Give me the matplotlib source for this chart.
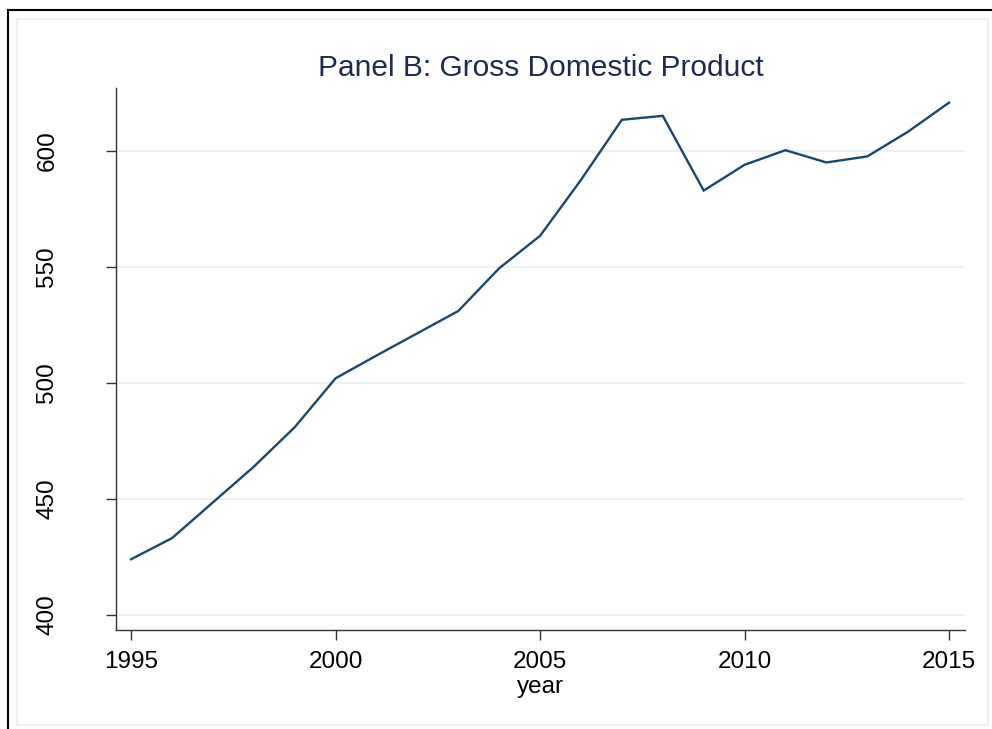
import matplotlib
matplotlib.use('Agg')
import matplotlib.pyplot as plt
from matplotlib.patches import Rectangle
from matplotlib.lines import Line2D

plt.rcParams['font.family'] = ['Liberation Sans', 'DejaVu Sans']

# data
years = [1995, 1996, 1997, 1998, 1999, 2000, 2001, 2002, 2003, 2004, 2005,
         2006, 2007, 2008, 2009, 2010, 2011, 2012, 2013, 2014, 2015]
gdp = [424.0, 433.1, 448.5, 463.9, 480.9, 502.0, 511.8, 521.4, 531.0, 549.4, 563.4,
       587.5, 613.4, 615.1, 582.9, 594.0, 600.3, 595.0, 597.6, 608.3, 620.8]
x_ticks = [1995, 2000, 2005, 2010, 2015]
y_ticks = [400, 450, 500, 550, 600]
title = 'Panel B: Gross Domestic Product'
x_label = 'year'

line_color = '#1a476f'
grid_color = '#eaf2f3'

fig = plt.figure(figsize=(9.92, 7.29), dpi=100)
W, H = 992, 729

# outer frame: black on top/left, light inner outline
fig.add_artist(Line2D([8 / W, 8 / W], [0, 1 - 9.5 / H], transform=fig.transFigure, color='black', lw=1.5))
fig.add_artist(Line2D([8 / W, 1], [1 - 9.5 / H, 1 - 9.5 / H], transform=fig.transFigure, color='black', lw=1.5))
fig.add_artist(Rectangle((17 / W, 1 - 725 / H), (988 - 17) / W, (725 - 19) / H,
                         transform=fig.transFigure, fill=False, ec=grid_color, lw=1.5))

ax = fig.add_axes([116 / W, 1 - 630 / H, (965 - 116) / W, (630 - 88) / H])
ax.plot(years, gdp, color=line_color, lw=1.7, solid_joinstyle='miter')

ax.set_xlim(1994.63, 2015.39)
ax.set_ylim(393.5, 627.1)
ax.set_xticks(x_ticks)
ax.set_yticks(y_ticks)
ax.set_yticklabels([str(v) for v in y_ticks], rotation=90, va='center')

for v in y_ticks:
    ax.axhline(v, color=grid_color, lw=1.5, zorder=0)

for s in ['top', 'right']:
    ax.spines[s].set_visible(False)
for s in ['left', 'bottom']:
    ax.spines[s].set_color('#333333')
    ax.spines[s].set_linewidth(1.0)

ax.tick_params(axis='x', length=7, width=1, color='#333333', pad=8, labelsize=17.5)
ax.tick_params(axis='y', length=7.5, width=1, color='#333333', pad=34, labelsize=17.5)

ax.set_xlabel(x_label, fontsize=17.5, labelpad=2)
ax.set_title(title, fontsize=21.5, color='#1c2b4f', pad=9)

fig.savefig('out.png', dpi=100)
